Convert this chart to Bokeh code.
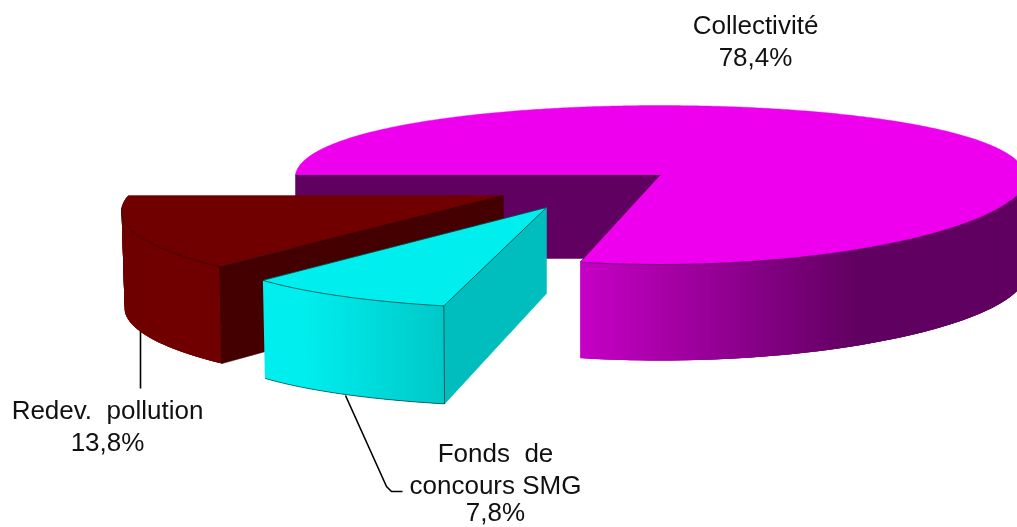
import math
from bokeh.plotting import figure
from bokeh.models import Range1d
from bokeh.core.properties import value
from bokeh.embed import file_html
from bokeh.resources import INLINE

# ---- data
categories = ["Redev. pollution", "Fonds de concours SMG", "Collectivité"]
shares = [13.8, 7.8, 78.4]
share_labels = ["13,8%", "7,8%", "78,4%"]

# ---- geometry of the projected pie (screen pixels)
W, H = 1017, 527
PIE = {
    "Collectivité":          dict(ax=660, ay=174, a=365, c=78.1, kx=0.038, ky=0.132, d_apex=84, d_rim=96, xs=1.0),
    "Redev. pollution":      dict(ax=503, ay=195, a=375, c=79.0, kx=0.19, ky=0.20, d_apex=90, d_rim=97, xs=0.992),
    "Fonds de concours SMG": dict(ax=546, ay=207, a=328, c=81.0, kx=0.33, ky=0.20, d_apex=86, d_rim=98, xs=0.993),
}
FONT = value("Liberation Sans")
FS = "26px"


def proj(phi, g):
    """Disc angle (degrees, from the far-left point towards the viewer) to screen."""
    r = math.radians(phi)
    X, Y = -math.cos(r), math.sin(r)
    return g["ax"] + g["a"] * X / (1 - g["kx"] * Y), g["ay"] + g["c"] * Y / (1 - g["ky"] * Y)


def arc(p0, p1, g, step=0.5):
    n = max(2, int(abs(p1 - p0) / step))
    return [proj(p0 + (p1 - p0) * i / n, g) for i in range(n + 1)]


def lerp_color(x, x0, x1, c0, c1):
    t = min(1.0, max(0.0, (x - x0) / (x1 - x0)))
    return "#%02x%02x%02x" % tuple(round(c0[i] + (c1[i] - c0[i]) * t) for i in range(3))


p = figure(width=W, height=H, output_backend="svg", toolbar_location=None,
           x_range=Range1d(0, W), y_range=Range1d(H, 0),
           min_border=0, outline_line_color=None, background_fill_color="white",
           border_fill_color="white", x_axis_type=None, y_axis_type=None,
           styles={"position": "fixed", "left": "0px", "top": "0px"})
p.grid.visible = False

cum = [0.0]
for s in shares:
    cum.append(cum[-1] + s * 3.6)
phi_a = dict(zip(categories, cum[:-1]))
phi_b = dict(zip(categories, cum[1:]))


def bottom_of(pts, g):
    return [(g["ax"] + (q[0] - g["ax"]) * g["xs"], q[1] + g["d_rim"]) for q in pts]


def rim_strips(name, p0, p1, color_of, step=0.5):
    """Overlapping strips, painted in order, so that no seam shows."""
    g = PIE[name]
    pts = arc(p0, p1, g, step)
    bot = bottom_of(pts, g)
    xs, ys, cols = [], [], []
    n = len(pts) - 1
    for i in range(n):
        j = min(i + 3, n)
        xs.append([pts[i][0], pts[j][0], bot[j][0], bot[i][0]])
        ys.append([pts[i][1], pts[j][1], bot[j][1], bot[i][1]])
        cols.append(color_of((pts[i][0] + pts[i + 1][0]) / 2))
    p.patches(xs, ys, fill_color=cols, line_color=None)


def edge(pts, alpha=0.6, width=0.8):
    p.line([q[0] for q in pts], [q[1] for q in pts], line_color="black", line_alpha=alpha, line_width=width)


# ---- main slice
name = "Collectivité"
g = PIE[name]
left = proj(360, g)
p.patch([left[0], g["ax"], g["ax"], left[0]],
        [g["ay"], g["ay"], g["ay"] + g["d_apex"], g["ay"] + g["d_apex"]],
        fill_color="#600060", line_color="#600060", line_width=0.5)
rim_strips(name, phi_a[name], 185,
           lambda x: lerp_color(x, 580, 860, (198, 0, 198), (96, 0, 96)))
top = arc(phi_a[name], phi_b[name], g)
p.patch([g["ax"]] + [q[0] for q in top], [g["ay"]] + [q[1] for q in top],
        fill_color="#ee00ee", line_color="#ee00ee", line_width=0.4)
edge([(g["ax"], g["ay"])] + top[:int(len(top) * 0.30)])

# ---- Redev. pollution
name = "Redev. pollution"
g = PIE[name]
c1 = proj(phi_b[name], g)
xb = g["ax"] + (c1[0] - g["ax"]) * g["xs"]
p.line([140, 140], [327, 388], line_color="black", line_width=1.6)
rim_strips(name, phi_a[name], phi_b[name], lambda x: "#700000")
p.patch([g["ax"], c1[0], xb, g["ax"]],
        [g["ay"], c1[1], c1[1] + g["d_rim"], g["ay"] + g["d_apex"]],
        fill_color="#440000", line_color="#440000", line_width=0.5)
top = arc(phi_a[name], phi_b[name], g)
p.patch([g["ax"]] + [q[0] for q in top], [g["ay"]] + [q[1] for q in top],
        fill_color="#700000", line_color="#700000", line_width=0.4)
edge(top[int(len(top) * 0.15):] + [(g["ax"], g["ay"])], alpha=0.5)
edge([c1, (xb, c1[1] + g["d_rim"])], alpha=0.35)

# ---- Fonds de concours SMG
name = "Fonds de concours SMG"
g = PIE[name]
c0 = proj(phi_a[name], g)
c1 = proj(phi_b[name], g)
xb = g["ax"] + (c1[0] - g["ax"]) * g["xs"]
p.line([345, 386, 391, 402], [395, 486, 491, 491], line_color="black", line_width=1.6)
rim_strips(name, phi_a[name], phi_b[name],
           lambda x: lerp_color(x, c0[0] + 40, c1[0], (0, 238, 238), (0, 200, 200)), step=0.25)
p.patch([g["ax"], c1[0], xb, g["ax"]],
        [g["ay"], c1[1], c1[1] + g["d_rim"], g["ay"] + g["d_apex"]],
        fill_color="#00bebe", line_color="#00bebe", line_width=0.5)
top = arc(phi_a[name], phi_b[name], g)
p.patch([g["ax"]] + [q[0] for q in top], [g["ay"]] + [q[1] for q in top],
        fill_color="#00eeee", line_color="#00eeee", line_width=0.4)
edge(top + [(g["ax"], g["ay"]), top[0]], alpha=0.65)
edge([c1, (xb, c1[1] + g["d_rim"])], alpha=0.65)
edge(bottom_of(top, g), alpha=0.65)

# ---- labels
LABELS = [
    (755, [(24, "Collectivité"), (56, share_labels[2])]),
    (107, [(409, "Redev.\u00a0 pollution"), (441, share_labels[0])]),
    (495, [(452, "Fonds\u00a0 de"), (484, "concours SMG"), (511.5, share_labels[1])]),
]
for cx, lines in LABELS:
    for cy, txt in lines:
        p.text([cx], [cy], text=[txt], text_font=FONT, text_font_size=FS, text_color="#111111",
               text_align="center", text_baseline="middle")

open("out.html", "w").write(file_html(p, INLINE))
